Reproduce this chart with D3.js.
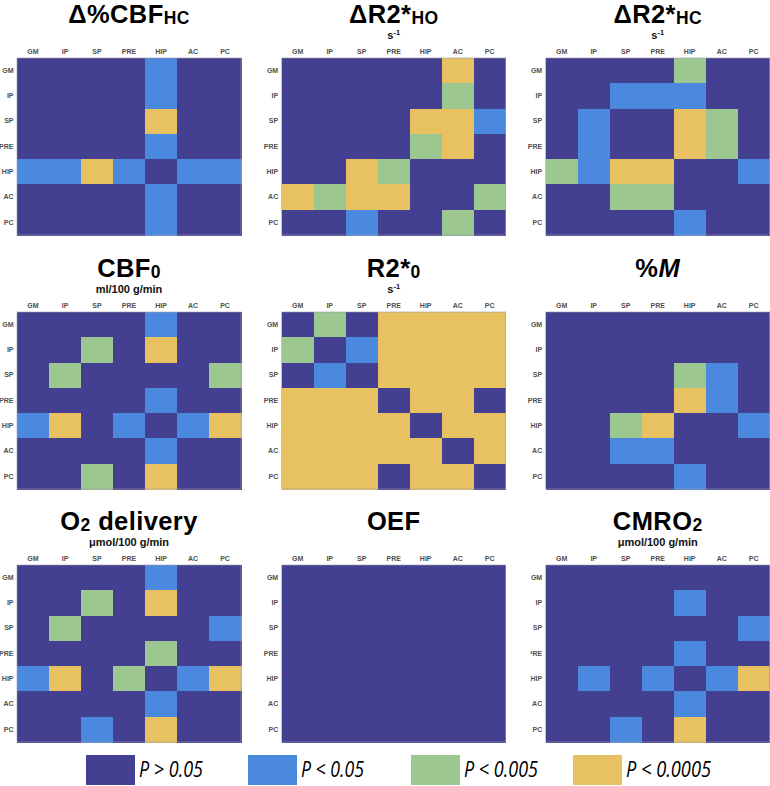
<!DOCTYPE html>
<html><head><meta charset="utf-8">
<script src="https://cdn.jsdelivr.net/npm/d3@7"></script>
<style>
html,body{margin:0;padding:0;background:#fff;}
svg{display:block;font-family:"Liberation Sans",Arial,sans-serif;}
</style></head>
<body>
<svg id="c" width="770" height="786"></svg>
<script>
// ---- data ----
const regions = ["GM","IP","SP","PRE","HIP","AC","PC"];
const levelLabels = ["P > 0.05","P < 0.05","P < 0.005","P < 0.0005"];
const levelColors = ["#433f91","#4a89de","#9cc790","#e8c260"];
// significance level per cell (0: P>0.05, 1: P<0.05, 2: P<0.005, 3: P<0.0005), rows = regions
const dCBF_HC = [
 [0,0,0,0,1,0,0],[0,0,0,0,1,0,0],[0,0,0,0,3,0,0],[0,0,0,0,1,0,0],
 [1,1,3,1,0,1,1],[0,0,0,0,1,0,0],[0,0,0,0,1,0,0]];
const dR2_HO = [
 [0,0,0,0,0,3,0],[0,0,0,0,0,2,0],[0,0,0,0,3,3,1],[0,0,0,0,2,3,0],
 [0,0,3,2,0,0,0],[3,2,3,3,0,0,2],[0,0,1,0,0,2,0]];
const dR2_HC = [
 [0,0,0,0,2,0,0],[0,0,1,1,1,0,0],[0,1,0,0,3,2,0],[0,1,0,0,3,2,0],
 [2,1,3,3,0,0,1],[0,0,2,2,0,0,0],[0,0,0,0,1,0,0]];
const CBF0 = [
 [0,0,0,0,1,0,0],[0,0,2,0,3,0,0],[0,2,0,0,0,0,2],[0,0,0,0,1,0,0],
 [1,3,0,1,0,1,3],[0,0,0,0,1,0,0],[0,0,2,0,3,0,0]];
const R2_0 = [
 [0,2,0,3,3,3,3],[2,0,1,3,3,3,3],[0,1,0,3,3,3,3],[3,3,3,0,3,3,0],
 [3,3,3,3,0,3,3],[3,3,3,3,3,0,3],[3,3,3,0,3,3,0]];
const pctM = [
 [0,0,0,0,0,0,0],[0,0,0,0,0,0,0],[0,0,0,0,2,1,0],[0,0,0,0,3,1,0],
 [0,0,2,3,0,0,1],[0,0,1,1,0,0,0],[0,0,0,0,1,0,0]];
const O2del = [
 [0,0,0,0,1,0,0],[0,0,2,0,3,0,0],[0,2,0,0,0,0,1],[0,0,0,0,2,0,0],
 [1,3,0,2,0,1,3],[0,0,0,0,1,0,0],[0,0,1,0,3,0,0]];
const OEF = [
 [0,0,0,0,0,0,0],[0,0,0,0,0,0,0],[0,0,0,0,0,0,0],[0,0,0,0,0,0,0],
 [0,0,0,0,0,0,0],[0,0,0,0,0,0,0],[0,0,0,0,0,0,0]];
const CMRO2 = [
 [0,0,0,0,0,0,0],[0,0,0,0,1,0,0],[0,0,0,0,0,0,1],[0,0,0,0,1,0,0],
 [0,1,0,1,0,1,3],[0,0,0,0,1,0,0],[0,0,1,0,3,0,0]];

// title parts: [text, style] style: n normal, s subscript, i italic
const panels = [
 {m:dCBF_HC, title:[["Δ%CBF","n"],["HC","s"]], unit:null},
 {m:dR2_HO, title:[["ΔR2*","n"],["HO","s"]], unit:[["s","n"],["-1","sup"]]},
 {m:dR2_HC, title:[["ΔR2*","n"],["HC","s"]], unit:[["s","n"],["-1","sup"]]},
 {m:CBF0, title:[["CBF","n"],["0","s"]], unit:[["ml/100 g/min","n"]]},
 {m:R2_0, title:[["R2*","n"],["0","s"]], unit:[["s","n"],["-1","sup"]]},
 {m:pctM, title:[["%","n"],["M","i"]], unit:null},
 {m:O2del, title:[["O","n"],["2","s"],[" delivery","n2"]], unit:[["μmol/100 g/min","n"]]},
 {m:OEF, title:[["OEF","n"]], unit:null},
 {m:CMRO2, title:[["CMRO","n"],["2","s"]], unit:[["μmol/100 g/min","n"]]}
];

const svg = d3.select("#c");
const colX = [17, 281.7, 545.7];
const rowY = [58, 312, 565];
const W = 224, H = 177;
const color = d3.scaleOrdinal().domain([0,1,2,3]).range(levelColors);

panels.forEach((p,i)=>{
  const x0 = colX[i%3], y0 = rowY[Math.floor(i/3)];
  const g = svg.append("g").attr("transform",`translate(${x0},${y0})`);
  const x = d3.scaleBand().domain(regions).range([0,W]);
  const y = d3.scaleBand().domain(regions).range([0,H]);
  const cells = [];
  p.m.forEach((row,ri)=>row.forEach((v,ci)=>cells.push({r:regions[ri],c:regions[ci],v})));
  g.selectAll("rect.cell").data(cells).join("rect").attr("class","cell")
    .attr("x",d=>x(d.c)).attr("y",d=>y(d.r))
    .attr("width",x.bandwidth()+0.6).attr("height",y.bandwidth()+0.6)
    .attr("shape-rendering","crispEdges")
    .attr("fill",d=>color(d.v));
  g.append("rect").attr("width",W).attr("height",H).attr("fill","none")
    .attr("stroke","#9a9aa8").attr("stroke-width",0.6);
  const ax = g.append("g").call(d3.axisTop(x).tickSize(0).tickPadding(4));
  const ay = g.append("g").call(d3.axisLeft(y).tickSize(0).tickPadding(3.5));
  if(i===8){
    const cid = "clip9";
    g.append("clipPath").attr("id",cid).append("rect")
      .attr("x",530.5 - x0).attr("y",-10).attr("width",60).attr("height",H+20);
    ay.attr("clip-path",`url(#${cid})`);
  }
  [ax,ay].forEach(a=>{
    a.select(".domain").remove();
    a.selectAll("text").attr("font-size",7).attr("font-weight","bold")
      .attr("fill","#505050").attr("font-family","Liberation Sans, Arial, sans-serif");
  });
  // title
  const cx = W/2;
  const t = g.append("text").attr("x",cx).attr("y",-34.8).attr("text-anchor","middle")
    .attr("font-weight","bold").attr("font-size",25.5).attr("fill","#000")
    .attr("letter-spacing",0.4);
  p.title.forEach(([s,st])=>{
    const ts = t.append("tspan").text(s);
    if(st==="s"){ ts.attr("font-size",17.5).attr("dy",1.2); }
    if(st==="n2"){ ts.attr("dy",-1.2); }
    if(st==="i"){ ts.attr("font-style","italic"); }
  });
  if(p.unit){
    const u = g.append("text").attr("x",cx).attr("y",-19.5).attr("text-anchor","middle")
      .attr("font-weight","bold").attr("font-size",11).attr("fill","#111");
    p.unit.forEach(([s,st])=>{
      const ts = u.append("tspan").text(s);
      if(st==="sup"){ ts.attr("font-size",7.5).attr("dy",-4); }
    });
  }
});

// legend
const legX = [86,248,411,573];
const legW = [64,63,74,85];
const lg = svg.append("g");
levelLabels.forEach((l,k)=>{
  lg.append("rect").attr("x",legX[k]).attr("y",755).attr("width",49).attr("height",30)
    .attr("fill",levelColors[k]);
  lg.append("text").attr("x",legX[k]+53).attr("y",777).attr("font-size",21)
    .attr("font-style","italic").attr("font-family","'Open Sans', sans-serif")
    .attr("textLength",legW[k]).attr("lengthAdjust","spacingAndGlyphs")
    .attr("fill","#000").text(l);
});
</script>
</body></html>
